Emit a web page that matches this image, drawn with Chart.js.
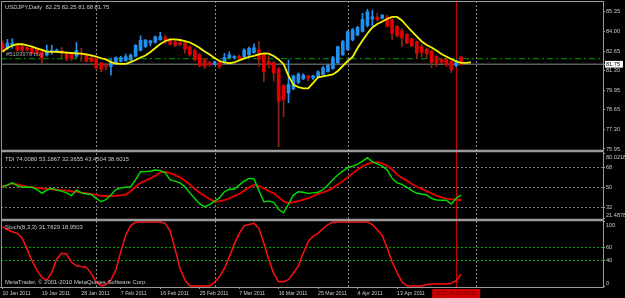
<!DOCTYPE html>
<html>
<head>
<meta charset="utf-8">
<script src="https://cdn.jsdelivr.net/npm/chart.js@4/dist/chart.umd.min.js"></script>
<style>
html,body{margin:0;padding:0;background:#000;width:625px;height:298px;overflow:hidden}
canvas{display:block}
</style>
</head>
<body>
<canvas id="c" width="625" height="298"></canvas>
<script>
// ---------------- data ----------------
const dateLabels = ['10 Jan 2011','19 Jan 2011','28 Jan 2011','7 Feb 2011','16 Feb 2011','25 Feb 2011','7 Mar 2011','16 Mar 2011','25 Mar 2011','4 Apr 2011','13 Apr 2011'];
const labelEvery = 8;

const barOpen = [83.2,82.8,83.1,83.0,82.98,82.9,82.84,82.77,82.61,82.38,
  82.6,82.65,82.65,82.55,82.45,82.3,82.45,82.4,82.2,82.15,
  81.85,81.65,81.6,81.85,81.95,82.0,82.05,82.3,82.7,82.95,
  83.2,83.25,83.42,83.6,83.42,83.3,83.2,83.2,82.95,82.7,
  82.4,82.1,81.85,81.75,81.9,81.85,82.2,82.2,82.3,82.25,
  82.4,82.55,82.75,82.4,81.95,81.85,81.45,80.3,79.78,80.05,
  80.5,80.75,80.95,80.8,80.88,81.05,81.25,81.45,81.85,82.4,
  82.75,83.42,83.75,84.0,84.4,84.85,84.98,84.9,85.0,84.8,
  84.35,84.05,83.8,83.5,83.3,82.95,82.78,82.65,82.3,82.08,
  82.1,81.95,81.65,82.25];
const barHigh = [83.35,83.45,83.5,83.1,83.05,82.95,82.9,82.85,82.7,83.07,
  83.05,82.8,82.9,82.6,82.55,83.23,82.85,82.45,82.3,82.2,
  81.9,81.82,82.15,82.25,82.3,82.45,82.45,83.1,83.7,83.45,
  83.4,83.7,83.95,83.75,83.5,83.4,83.3,83.25,83.0,82.8,
  82.5,82.15,81.95,81.95,82.0,82.5,82.6,82.35,82.4,82.8,
  82.95,83.15,83.3,82.45,82.38,81.95,81.5,80.35,82.05,81.0,
  81.15,81.1,81.0,81.0,81.3,81.6,81.75,82.3,83.0,83.4,
  84.05,84.2,84.35,85.24,85.52,85.45,85.25,85.15,85.12,84.85,
  84.4,84.2,83.85,83.55,83.35,83.12,82.85,82.7,82.35,82.15,
  82.2,82.0,82.05,82.25];
const barLow = [82.6,82.75,82.85,82.65,82.6,82.65,82.45,82.45,81.82,82.3,
  82.45,82.55,82.2,82.0,82.0,82.2,81.95,81.9,81.9,81.4,
  81.25,81.36,81.0,81.8,81.9,81.95,82.0,82.25,82.65,82.9,
  83.0,83.2,83.4,83.15,83.05,82.95,83.0,82.5,82.3,81.95,
  81.55,81.45,81.6,81.7,81.45,81.8,82.15,82.1,82.05,82.2,
  82.35,82.5,81.6,80.55,81.5,80.6,76.1,78.15,79.12,80.0,
  80.4,80.7,80.6,80.7,80.8,81.0,81.2,81.4,81.8,82.35,
  82.7,83.35,83.7,83.95,84.3,84.4,84.7,84.85,84.3,83.45,
  83.6,82.95,83.15,82.95,82.15,82.27,82.16,81.5,81.6,81.8,
  81.6,81.17,81.55,81.68];
const barClose = [82.7,83.2,83.2,82.72,82.7,82.72,82.5,82.5,82.16,82.68,
  82.7,82.7,82.6,82.1,82.15,82.7,82.4,81.95,81.95,81.5,
  81.4,81.58,81.85,82.2,82.2,82.27,82.38,83.05,83.4,83.4,
  83.35,83.62,83.65,83.4,83.1,83.05,83.1,82.78,82.4,82.05,
  81.65,81.6,81.72,81.9,81.6,82.2,82.4,82.28,82.15,82.72,
  82.84,82.88,82.1,81.25,81.72,81.15,79.2,79.3,80.38,80.95,
  81.08,81.0,80.8,80.95,81.24,81.5,81.7,82.2,82.95,83.3,
  83.98,84.12,84.28,84.82,85.35,85.0,84.8,85.12,84.35,83.85,
  83.7,83.55,83.2,83.0,82.5,82.58,82.45,81.87,81.83,81.88,
  81.7,81.38,82.0,81.75];

// yellow moving average (drawn 2 bars ahead)
const maLine = [82.61,82.86,83.03,83.12,83.12,83.05,82.96,82.84,82.73,82.62,
  82.60,82.59,82.57,82.55,82.52,82.49,82.47,82.42,82.35,82.28,
  82.16,82.08,81.90,81.80,81.77,81.77,81.90,82.04,82.21,82.35,
  82.59,82.86,83.14,83.34,83.45,83.45,83.41,83.34,83.24,83.07,
  82.86,82.62,82.42,82.18,81.97,81.87,81.82,81.87,82.01,82.14,
  82.25,82.32,82.42,82.50,82.47,82.32,82.08,81.75,80.95,80.35,
  80.19,80.10,80.10,80.47,80.86,80.92,80.98,81.05,81.29,81.63,
  81.97,82.25,82.86,83.38,83.86,84.27,84.51,84.68,84.85,84.99,
  84.99,84.75,84.37,84.00,83.65,83.31,83.07,82.90,82.69,82.45,
  82.28,82.11,81.94,81.84,81.85,81.88];

const tdiGreen = [50.5,52,54,51.5,50,50,50,48,44.5,47.5,
  49,47.5,46.5,45,42.5,47.5,45,44,43.5,40,
  37,39,43,48,49.5,50,50.5,57,64,64.2,
  64.5,65.5,65,63,56.6,55.5,54,50.5,45,40,
  35,32.5,34.5,37.5,40.5,46,48.2,48.2,52,55.5,
  58,57.5,47,37,37.5,36.5,30,27,35,43,
  46,45.5,44.5,45,45.5,48,52,57,61.1,64.5,
  67.6,69,70.7,73.5,76.6,73,71,69,65.6,58,
  54,52.7,50,47,44.6,44,43.1,40,38.6,38.4,
  38.4,35,40.1,43.1];
const tdiRed = [50.5,52,53.5,52.5,51.5,50.5,50,49.5,49,48.6,
  48.2,47.8,47.4,47,46.5,46,45.2,44.8,44,43.2,
  42.4,42.2,42.2,42.4,42.8,43.5,46.5,50.5,54,56,
  58,60.5,63.5,64,62.8,61,59,56,52.5,48.5,
  45,42,39.5,37.2,37.5,38.5,40,42,44,47,
  50,52,51,49,46.5,44.8,41,37.5,35.6,36.5,
  37.7,38.8,40,42,44,45.5,47,49.5,52.5,55.5,
  59,62.5,66,69,71,72.3,72.5,71.5,69.4,66,
  61.5,58.5,56,53,50.5,48.5,46.5,44.5,42.5,41,
  39.8,39.2,38.8,38.6];
const stochLine = [93,88,85,82.5,75,58,40,25,14,10,
  22,42.7,51.6,50.5,37.6,32,30.7,30,20,7.5,
  1.2,3,10,26,54,80,94,99.5,100,100,
  100,100,100,98,86,58,28,10,0.8,0.8,
  0.8,0.8,0.8,6.5,15,28,46,65.7,82,94,
  96,98,90,67,42,20,7.5,7.4,10.5,21,
  32,52,70,78,82.5,90,96,99.5,100,100,
  100,100,100,100,100,96,88,79,60,38,
  22,7,1,0.8,0.8,0.8,3,4,4,4,
  4,5,9,19];

const priceTicks = [85.35,84.00,82.65,81.30,79.95,78.65,77.30,75.95];
const tdiTicks = [80.0218,68,50,32,21.4878];
const tdiLevels = [68,50,32];
const stochTicks = [100,60,40,0];
const stochLevels = [60,40];
const monthStarts = [19,43,70,96];
const cursorBar = 92;
const cursorTime = '2011.04.27 00:00';
const bidPrice = 81.75;
const orderPrice = 82.13;
const headerText = 'USDJPY,Daily  82.25 82.25 81.68 81.75';
const orderText = '#5103978 buy';
const tdiText = 'TDI 74.0080 53.1867 32.3655 43.4504 38.6015';
const stochText = 'Stoch(8,3,3) 31.7829 18.9503';
const copyText = 'MetaTrader, \u00A9 2001-2010 MetaQuotes Software Corp.';

// ---------------- style / layout ----------------
const FONT = "'Liberation Sans', Arial, sans-serif";
const TXT = '#c8c8c8';
const FRAME = '#9a9a9a';
const UP = '#2390f0';
const DOWN = '#e00000';
const DOWN_WICK = '#8a2a12';
const X_MIN = -0.304, X_MAX = 121.76;
const PRICE_MIN = 75.81, PRICE_MAX = 86.08;
const TDI_MIN = 20.57, TDI_MAX = 82.67;
const ST_MIN = -0.8, ST_MAX = 103.1;

Chart.defaults.font.family = FONT;

const idx = barOpen.map((_, i) => i);
const isUp = idx.map(i => barClose[i] >= barOpen[i]);
const pts = arr => arr.map((v, i) => ({x: i, y: v}));
const flat = v => [{x: X_MIN, y: v}, {x: X_MAX, y: v}];
const noPad = s => {
  s.paddingLeft = 0; s.paddingRight = 0; s.paddingTop = 0; s.paddingBottom = 0;
  if (s._margins) { s._margins.left = 0; s._margins.right = 0; s._margins.top = 0; s._margins.bottom = 0; }
};

function yAxis(weight, min, max, ticksArr, label, gridColor) {
  return {
    type: 'linear', position: 'right', stack: 'panes', stackWeight: weight,
    min, max, bounds: 'data', offset: false,
    afterBuildTicks: s => { s.ticks = ticksArr.map(v => ({value: v})); },
    afterFit: s => { s.width = 22; noPad(s); },
    ticks: {autoSkip: false, color: TXT, font: {size: 5.6}, padding: 1, callback: label},
    grid: {drawOnChartArea: !!gridColor, color: gridColor || FRAME, tickColor: FRAME, tickLength: 2, lineWidth: 1, offset: false},
    border: {display: true, color: FRAME, width: 1, dash: [2, 2]}
  };
}
const edgeLabel = arr => (v) => {
  const s = String(v);
  if (v === arr[0]) return ['', s];
  if (v === arr[arr.length - 1]) return [s, ''];
  return s;
};

const overlay = {
  id: 'overlay',
  beforeDatasetsDraw(chart) {
    const {ctx, chartArea: a, scales: s} = chart;
    ctx.save();
    ctx.lineWidth = 1;
    ctx.strokeStyle = '#8c8c8c';
    ctx.setLineDash([2, 2]);
    monthStarts.forEach(m => {
      const x = Math.round(s.x.getPixelForValue(m)) + 0.5;
      ctx.beginPath(); ctx.moveTo(x, a.top); ctx.lineTo(x, a.bottom); ctx.stroke();
    });
    ctx.setLineDash([]);
    ctx.strokeStyle = '#c80000';
    const cx = Math.round(s.x.getPixelForValue(cursorBar)) + 0.5;
    ctx.beginPath(); ctx.moveTo(cx, a.top); ctx.lineTo(cx, a.bottom); ctx.stroke();
    ctx.restore();
  },
  afterDraw(chart) {
    const {ctx, chartArea: a, scales: s} = chart;
    ctx.save();
    ctx.strokeStyle = FRAME;
    const hl = (y, w) => { ctx.lineWidth = w; ctx.beginPath(); ctx.moveTo(a.left, y); ctx.lineTo(a.right, y); ctx.stroke(); };
    hl(s.yMain.top + 0.5, 1);
    hl(s.yTdi.top, 2.5);
    hl(s.yStoch.top, 2.5);
    ctx.lineWidth = 1;
    ctx.beginPath(); ctx.moveTo(a.left + 0.5, a.top); ctx.lineTo(a.left + 0.5, a.bottom); ctx.stroke();
    ctx.textAlign = 'left'; ctx.textBaseline = 'middle';
    ctx.font = '5.9px ' + FONT;
    ctx.fillStyle = TXT;
    ctx.fillText(headerText, a.left + 4, s.yMain.top + 6);
    ctx.fillText(tdiText, a.left + 4, s.yTdi.top + 8);
    ctx.fillText(stochText, a.left + 4, s.yStoch.top + 7.5);
    ctx.fillText(copyText, a.left + 4, s.yStoch.bottom - 5);
    ctx.fillStyle = '#a8a8a8';
    ctx.fillText(orderText, a.left + 5, s.yMain.getPixelForValue(orderPrice) - 4.5);
    const cx = s.x.getPixelForValue(cursorBar);
    ctx.font = '5.2px ' + FONT;
    const tw = ctx.measureText(cursorTime).width + 8;
    ctx.fillStyle = '#d00000';
    ctx.fillRect(cx - tw / 2, a.bottom + 2, tw, 9);
    ctx.fillStyle = '#600000'; ctx.textAlign = 'center';
    ctx.fillText(cursorTime, cx, a.bottom + 6.5);
    ctx.restore();
  }
};

new Chart(document.getElementById('c'), {
  type: 'bar',
  data: {
    datasets: [
      {type: 'line', xAxisID: 'x', yAxisID: 'yMain', data: pts(maLine), borderColor: '#f4f400', borderWidth: 1.8, pointRadius: 0, tension: 0},
      {type: 'bar', xAxisID: 'x', yAxisID: 'yMain', data: idx.map(i => ({x: i, y: [barOpen[i], barClose[i]]})),
        backgroundColor: idx.map(i => isUp[i] ? UP : DOWN), barThickness: 3, grouped: false, minBarLength: 1, borderWidth: 0},
      {type: 'bar', xAxisID: 'x', yAxisID: 'yMain', data: idx.map(i => ({x: i, y: [barLow[i], barHigh[i]]})),
        backgroundColor: idx.map(i => isUp[i] ? UP : DOWN_WICK), barThickness: 1, grouped: false, borderWidth: 0},
      {type: 'line', xAxisID: 'x', yAxisID: 'yMain', data: flat(orderPrice), borderColor: '#00a000', borderWidth: 1, borderDash: [6, 3, 2, 3], pointRadius: 0},
      {type: 'line', xAxisID: 'x', yAxisID: 'yMain', data: flat(bidPrice), borderColor: '#5c5c5c', borderWidth: 1.5, pointRadius: 0},
      {type: 'line', xAxisID: 'x', yAxisID: 'yTdi', data: pts(tdiGreen), borderColor: '#00e000', borderWidth: 1.4, pointRadius: 0, tension: 0},
      {type: 'line', xAxisID: 'x', yAxisID: 'yTdi', data: pts(tdiRed), borderColor: '#e00000', borderWidth: 1.9, pointRadius: 0, tension: 0},
      {type: 'line', xAxisID: 'x', yAxisID: 'yStoch', data: pts(stochLine), borderColor: '#ff1010', borderWidth: 1.5, pointRadius: 0, tension: 0}
    ]
  },
  options: {
    responsive: false, animation: false, devicePixelRatio: 1, events: [],
    layout: {padding: {top: 1, left: 0, right: 0, bottom: 0}},
    plugins: {legend: {display: false}, tooltip: {enabled: false}},
    scales: {
      x: {
        type: 'linear', position: 'bottom', min: X_MIN, max: X_MAX, bounds: 'data', offset: false,
        afterBuildTicks: s => { s.ticks = dateLabels.map((_, k) => ({value: k * labelEvery})); },
        afterFit: s => { s.height = 11; noPad(s); },
        ticks: {autoSkip: false, maxRotation: 0, align: 'start', color: TXT, font: {size: 5.2}, padding: 1,
          callback: v => dateLabels[Math.round(v / labelEvery)]},
        grid: {drawOnChartArea: false, drawTicks: true, tickLength: 2, tickColor: FRAME, offset: false},
        border: {display: true, color: FRAME, width: 1}
      },
      yMain: yAxis(150, PRICE_MIN, PRICE_MAX, [...priceTicks, bidPrice], v => v.toFixed(2), null),
      yTdi: yAxis(69, TDI_MIN, TDI_MAX, tdiTicks, edgeLabel(tdiTicks),
        c => (c.tick && tdiLevels.includes(c.tick.value)) ? '#7c7c7c' : 'rgba(0,0,0,0)'),
      yStoch: yAxis(67, ST_MIN, ST_MAX, stochTicks, edgeLabel(stochTicks),
        c => (c.tick && stochLevels.includes(c.tick.value)) ? '#00a800' : 'rgba(0,0,0,0)')
    }
  },
  plugins: [overlay]
});
// highlighted bid label on price axis
(function () {
  const ch = Chart.getChart('c');
  const t = ch.options.scales.yMain.ticks;
  t.color = c => (c.tick && c.tick.value === bidPrice) ? '#000' : TXT;
  t.showLabelBackdrop = c => !!(c.tick && c.tick.value === bidPrice);
  t.backdropColor = '#ffffff';
  t.backdropPadding = {left: 1, right: 3, top: 0, bottom: 0};
  ch.update();
})();
</script>
</body>
</html>
